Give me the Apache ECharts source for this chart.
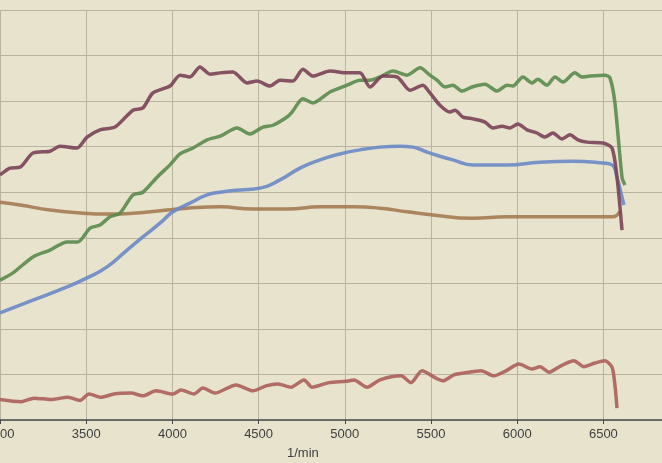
<!DOCTYPE html>
<html>
<head>
<meta charset="utf-8">
<script src="https://cdn.jsdelivr.net/npm/echarts@6/dist/echarts.min.js"></script>
<style>
html,body{margin:0;padding:0;background:#e7e3cd;}
#c{width:662px;height:463px;}
</style>
</head>
<body>
<div id="c"></div>
<script>
// x tick labels (1/min)
const xTicks = [3000, 3500, 4000, 4500, 5000, 5500, 6000, 6500];

// Series: rpm + value (grid units)
const purpleRpm = [3000,3058,3116,3191,3290,3348,3447,3505,3580,3667,3771,3829,3887,3986,4044,4102,4160,4218,4276,4351,4433,4491,4566,4624,4699,4757,4815,4914,5013,5088,5146,5221,5303,5378,5453,5494,5552,5610,5639,5685,5743,5813,5859,5912,5958,6004,6057,6115,6161,6207,6260,6306,6352,6405,6497,6550,6579,6608];
const purpleVal = [5.38,5.53,5.55,5.86,5.90,6.01,5.97,6.21,6.37,6.43,6.80,6.85,7.18,7.33,7.57,7.53,7.75,7.59,7.62,7.64,7.40,7.44,7.33,7.46,7.44,7.70,7.55,7.66,7.62,7.62,7.31,7.55,7.53,7.24,7.35,7.18,6.91,6.76,6.80,6.65,6.61,6.54,6.41,6.45,6.41,6.50,6.37,6.30,6.21,6.30,6.17,6.26,6.15,6.10,6.08,5.97,5.33,4.17];

const greenRpm = [3000,3075,3191,3290,3389,3452,3522,3580,3638,3696,3771,3829,3911,3986,4044,4119,4201,4276,4375,4450,4525,4583,4665,4694,4757,4815,4914,5013,5088,5146,5204,5279,5361,5436,5494,5535,5581,5627,5680,5738,5813,5883,5941,5975,6033,6086,6120,6173,6219,6265,6335,6376,6422,6509,6538,6567,6608,6625];
const greenVal = [3.07,3.23,3.58,3.73,3.91,3.91,4.21,4.28,4.46,4.54,4.94,5.00,5.33,5.60,5.84,5.97,6.15,6.23,6.41,6.28,6.43,6.47,6.65,6.76,7.05,6.96,7.20,7.35,7.46,7.46,7.53,7.66,7.57,7.73,7.57,7.46,7.31,7.35,7.22,7.31,7.37,7.22,7.35,7.33,7.53,7.40,7.48,7.35,7.53,7.42,7.62,7.53,7.55,7.57,7.51,6.96,5.33,5.16];

const blueRpm = [3000,3191,3389,3505,3621,3737,3829,3928,4003,4102,4201,4276,4392,4508,4624,4740,4856,4972,5088,5204,5320,5395,5477,5552,5627,5743,5941,6132,6323,6497,6550,6579,6608,6619];
const blueVal = [2.35,2.63,2.92,3.12,3.36,3.73,4.02,4.32,4.57,4.76,4.94,5.00,5.05,5.09,5.27,5.53,5.71,5.84,5.93,5.99,6.01,5.99,5.88,5.79,5.71,5.60,5.60,5.66,5.68,5.64,5.60,5.33,4.89,4.72];

const orangeRpm = [3000,3116,3290,3481,3638,3771,3969,4085,4276,4467,4665,4856,5047,5204,5361,5511,5743,5941,6132,6323,6521,6555,6596];
const orangeVal = [4.78,4.72,4.61,4.54,4.52,4.54,4.61,4.65,4.68,4.63,4.63,4.68,4.68,4.65,4.57,4.50,4.43,4.46,4.46,4.46,4.46,4.46,4.57];

const redRpm = [3000,3122,3197,3296,3394,3464,3516,3586,3661,3760,3829,3905,4003,4050,4125,4177,4247,4369,4467,4543,4612,4688,4763,4810,4908,5007,5053,5129,5204,5326,5384,5448,5523,5569,5633,5691,5790,5865,5935,6010,6086,6132,6184,6254,6329,6387,6451,6509,6550,6567,6579];
const redVal = [0.45,0.40,0.48,0.45,0.50,0.43,0.57,0.50,0.57,0.59,0.53,0.64,0.57,0.66,0.57,0.70,0.59,0.77,0.64,0.75,0.79,0.72,0.88,0.72,0.82,0.85,0.88,0.72,0.88,0.97,0.82,1.08,0.93,0.86,0.99,1.03,1.08,0.97,1.08,1.23,1.12,1.17,1.05,1.19,1.30,1.17,1.25,1.30,1.16,0.77,0.26];

const zip = (a, b) => a.map((x, i) => [x, b[i]]);

function mk(name, rpm, val, color, smooth) {
  return {
    name: name, type: 'line', data: zip(rpm, val), showSymbol: false,
    smooth: smooth, lineStyle: { color: color, width: 3.5, opacity: 0.9 },
    itemStyle: { color: color }, animation: false
  };
}

const chart = echarts.init(document.getElementById('c'));
chart.setOption({
  backgroundColor: '#e7e3cd',
  animation: false,
  grid: { left: 0, right: 0, top: 10, bottom: 43, containLabel: false, outerBoundsMode: 'none' },
  xAxis: {
    type: 'value', min: 3000, max: 6840, interval: 500,
    axisLine: { show: true, lineStyle: { color: '#4a4a48', width: 1.5 } },
    axisTick: { show: true, length: 4, lineStyle: { color: '#4a4a48' } },
    axisLabel: {
      color: '#3f3f3f', fontSize: 13, fontFamily: 'Liberation Sans, Arial, sans-serif', margin: 8,
      showMaxLabel: false,
      formatter: v => (xTicks.indexOf(v) >= 0 ? String(v) : '')
    },
    splitLine: { show: true, lineStyle: { color: '#b9b39f', width: 1 } }
  },
  yAxis: {
    type: 'value', min: 0, max: 9, interval: 1,
    axisLine: { show: false }, axisTick: { show: false }, axisLabel: { show: false },
    splitLine: { show: true, lineStyle: { color: '#b9b39f', width: 1 } }
  },
  graphic: [{
    type: 'text', left: 287, top: 447,
    style: { text: '1/min', fill: '#3f3f3f', font: '13px "Liberation Sans", Arial, sans-serif' }
  }],
  series: [
    mk('orange', orangeRpm, orangeVal, '#a47a52', true),
    mk('blue', blueRpm, blueVal, '#6a88c6', true),
    mk('green', greenRpm, greenVal, '#5a8a4c', 0.25),
    mk('purple', purpleRpm, purpleVal, '#7a4159', 0.25),
    mk('red', redRpm, redVal, '#ab5f5a', 0.25)
  ]
});
</script>
</body>
</html>
